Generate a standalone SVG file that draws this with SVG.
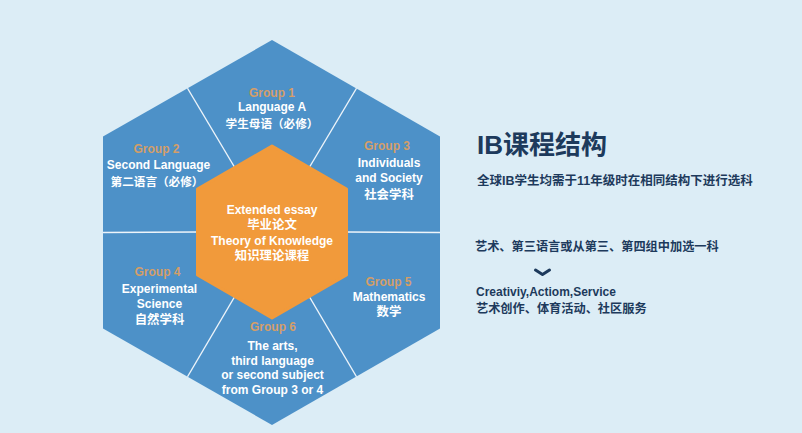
<svg xmlns="http://www.w3.org/2000/svg" width="802" height="433" viewBox="0 0 802 433">
<style>
text{font-family:"Liberation Sans","Noto Sans CJK SC",sans-serif;font-weight:bold;}
.w{fill:#ffffff;font-size:12px;text-anchor:middle;}
.g{fill:#d49e68;font-size:12px;text-anchor:middle;}
.cn{fill:#ffffff;font-size:12.4px;text-anchor:middle;}
.cp{fill:#ffffff;font-size:11.6px;text-anchor:middle;}
.d{fill:#1d3a5c;}
.div{stroke:#ffffff;stroke-width:1.4;stroke-opacity:0.9;fill:none;}
</style>
<rect width="802" height="433" fill="#dcedf6"/>
<g id="outer-hexagon">
<polygon points="272,40 440,136.5 440,328.5 272,425 103,328.5 103,136.5" fill="#4d91c8"/>
</g>
<g id="dividers">
<line class="div" x1="187.5" y1="88.25" x2="234.75" y2="167.5"/>
<line class="div" x1="356.5" y1="88.25" x2="309.25" y2="167.5"/>
<line class="div" x1="440" y1="232.5" x2="346.5" y2="232"/>
<line class="div" x1="356.5" y1="376.75" x2="309.25" y2="296.5"/>
<line class="div" x1="187.5" y1="376.75" x2="234.75" y2="296.5"/>
<line class="div" x1="103" y1="232.5" x2="197.5" y2="232"/>
</g>
<g id="core">
<polygon points="272,146 346.5,189 346.5,275 272,318 197.5,275 197.5,189" fill="#f19a3b" stroke="#f19a3b" stroke-width="3" stroke-linejoin="round"/>
<text class="w" x="272" y="214">Extended essay</text>
<text class="cn" x="272" y="228.5">毕业论文</text>
<text class="w" x="272" y="245">Theory of Knowledge</text>
<text class="cn" x="272" y="259.5">知识理论课程</text>
</g>
<g id="group1">
<text class="g" x="272" y="97">Group 1</text>
<text class="w" x="272" y="110.5">Language A</text>
<text class="cp" x="272" y="128">学生母语（必修）</text>
</g>
<g id="group2">
<text class="g" x="156.5" y="152.5">Group 2</text>
<text class="w" x="158.5" y="169">Second Language</text>
<text class="cp" x="157" y="186">第二语言（必修）</text>
</g>
<g id="group3">
<text class="g" x="387" y="150">Group 3</text>
<text class="w" x="389" y="167">Individuals</text>
<text class="w" x="389" y="182">and Society</text>
<text class="cn" x="389" y="198.5">社会学科</text>
</g>
<g id="group4">
<text class="g" x="157.5" y="276">Group 4</text>
<text class="w" x="159.5" y="292.5">Experimental</text>
<text class="w" x="159.5" y="307.5">Science</text>
<text class="cn" x="159.5" y="324">自然学科</text>
</g>
<g id="group5">
<text class="g" x="388.5" y="286">Group 5</text>
<text class="w" x="389" y="301">Mathematics</text>
<text class="cn" x="389" y="316">数学</text>
</g>
<g id="group6">
<text class="g" x="273" y="331">Group 6</text>
<text class="w" x="272.5" y="350">The arts,</text>
<text class="w" x="272.5" y="364.5">third language</text>
<text class="w" x="272.5" y="379">or second subject</text>
<text class="w" x="272.5" y="393.5">from Group 3 or 4</text>
</g>
<g id="title">
<text class="d" x="477" y="153.5" font-size="26">IB课程结构</text>
<text class="d" x="477" y="184.5" font-size="12.5">全球IB学生均需于11年级时在相同结构下进行选科</text>
</g>
<g id="notes">
<text class="d" x="475" y="251" font-size="12.2">艺术、第三语言或从第三、第四组中加选一科</text>
<polyline points="535.5,270 542.5,274.5 549.5,270" fill="none" stroke="#1d3a5c" stroke-width="3" stroke-linecap="round" stroke-linejoin="round"/>
<text class="d" x="476" y="296" font-size="12">Creativiy,Actiom,Service</text>
<text class="d" x="476" y="312.5" font-size="12.2">艺术创作、体育活动、社区服务</text>
</g>
</svg>
